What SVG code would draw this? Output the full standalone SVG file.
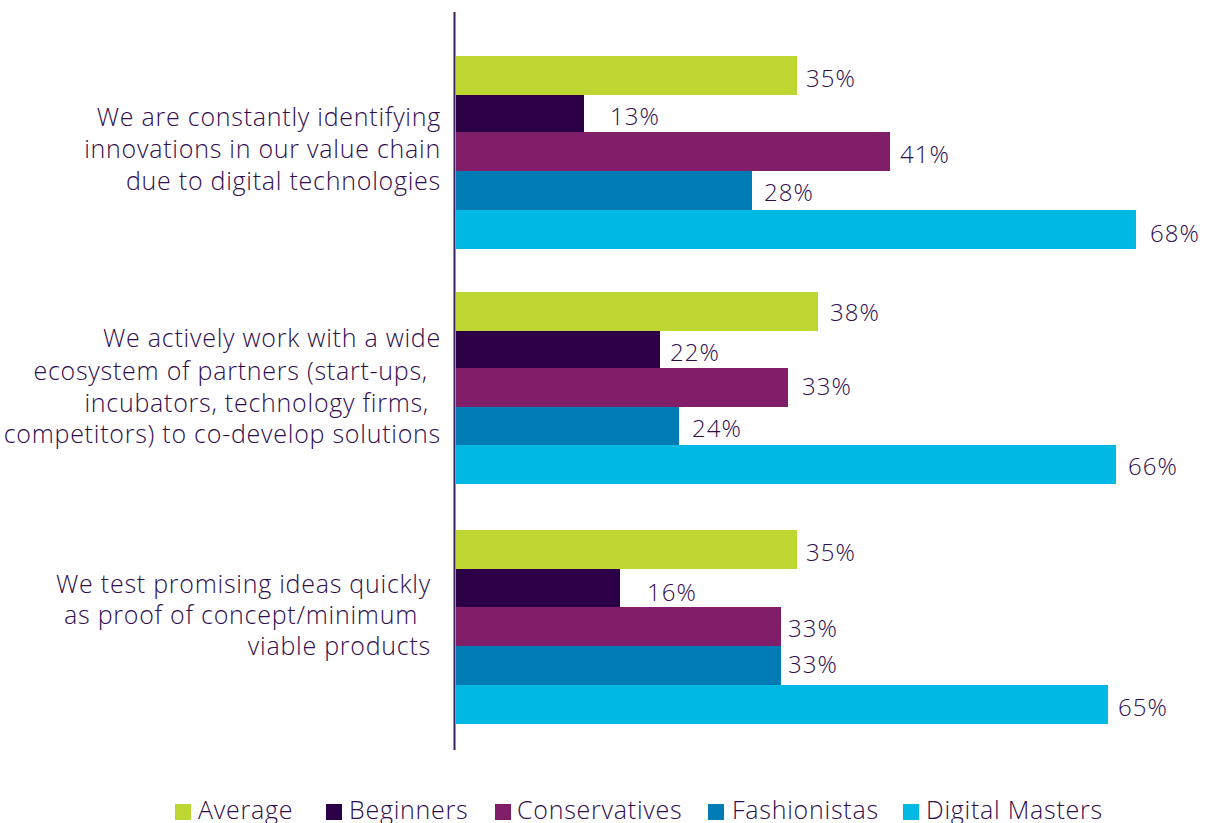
<svg xmlns="http://www.w3.org/2000/svg" width="1207" height="823" viewBox="0 0 1207 823">
<style>
text{font-family:"Open Sans","Liberation Sans",sans-serif;font-weight:300;fill:#2f0d4f;font-size:25px;letter-spacing:0.75px}
.cat{text-anchor:end}
.val{font-size:24px;letter-spacing:1px}
.avg{fill:#bdd631}.beg{fill:#2c0046}.con{fill:#801e6a}.fas{fill:#007bb4}.dm{fill:#00b8e4}
</style>
<rect width="1207" height="823" fill="#ffffff"/>
<g id="axis"><line x1="454.5" y1="12" x2="454.5" y2="750" stroke="#3d1f5e" stroke-width="2"/></g>
<g id="group1">
<text class="cat" x="441" y="126">We are constantly identifying</text>
<text class="cat" x="441" y="158">innovations in our value chain</text>
<text class="cat" x="441" y="190">due to digital technologies</text>
<rect class="avg" x="456" y="56" width="341" height="39"/>
<rect class="beg" x="456" y="95" width="128" height="37"/>
<rect class="con" x="456" y="132" width="434" height="39"/>
<rect class="fas" x="456" y="171" width="296" height="39"/>
<rect class="dm" x="456" y="210" width="680" height="39"/>
<text class="val" x="806" y="87">35%</text>
<text class="val" x="610" y="125">13%</text>
<text class="val" x="900" y="163">41%</text>
<text class="val" x="764" y="201">28%</text>
<text class="val" x="1150" y="242">68%</text>
</g>
<g id="group2">
<text class="cat" x="441" y="347">We actively work with a wide</text>
<text class="cat" x="428" y="380">ecosystem of partners (start-ups,</text>
<text class="cat" x="429" y="412">incubators, technology firms,</text>
<text class="cat" x="441" y="443">competitors) to co-develop solutions</text>
<rect class="avg" x="456" y="292" width="362" height="39"/>
<rect class="beg" x="456" y="331" width="204" height="37"/>
<rect class="con" x="456" y="368" width="332" height="39"/>
<rect class="fas" x="456" y="407" width="223" height="38"/>
<rect class="dm" x="456" y="445" width="660" height="39"/>
<text class="val" x="830" y="321">38%</text>
<text class="val" x="670" y="361">22%</text>
<text class="val" x="802" y="395">33%</text>
<text class="val" x="692" y="437">24%</text>
<text class="val" x="1128" y="475">66%</text>
</g>
<g id="group3">
<text class="cat" x="431" y="593">We test promising ideas quickly</text>
<text class="cat" x="418" y="624">as proof of concept/minimum</text>
<text class="cat" x="431" y="655">viable products</text>
<rect class="avg" x="456" y="530" width="341" height="39"/>
<rect class="beg" x="456" y="569" width="164" height="38"/>
<rect class="con" x="456" y="607" width="325" height="39"/>
<rect class="fas" x="456" y="646" width="325" height="39"/>
<rect class="dm" x="456" y="685" width="652" height="39"/>
<text class="val" x="806" y="561">35%</text>
<text class="val" x="647" y="601">16%</text>
<text class="val" x="788" y="637">33%</text>
<text class="val" x="788" y="673">33%</text>
<text class="val" x="1118" y="716">65%</text>
</g>
<g id="legend">
<rect class="avg" x="175" y="804" width="16" height="16"/>
<text x="198" y="819">Average</text>
<rect class="beg" x="326" y="804" width="16" height="16"/>
<text x="349" y="819">Beginners</text>
<rect class="con" x="495" y="804" width="16" height="16"/>
<text x="517" y="819">Conservatives</text>
<rect class="fas" x="708" y="804" width="16" height="16"/>
<text x="732" y="819">Fashionistas</text>
<rect class="dm" x="903" y="804" width="16" height="16"/>
<text x="926" y="819">Digital Masters</text>
</g>
</svg>
